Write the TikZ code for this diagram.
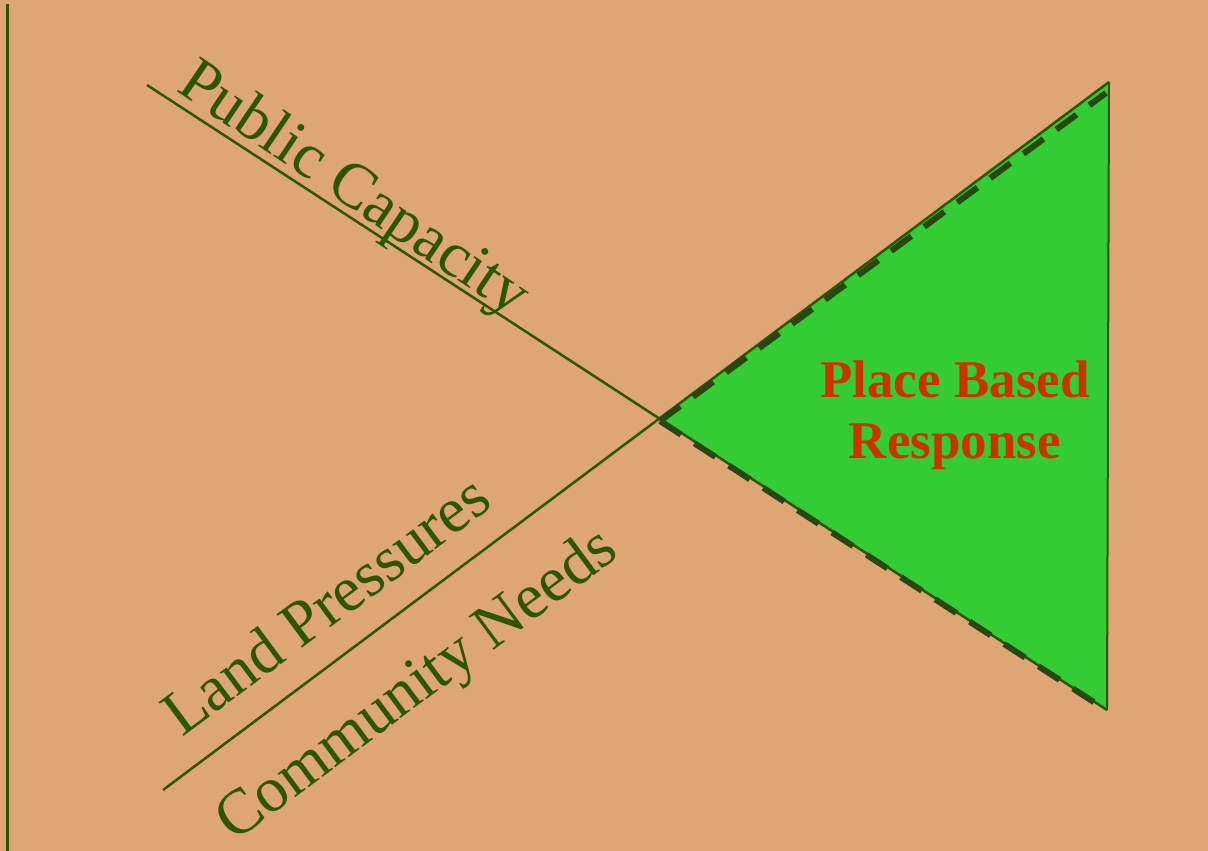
\documentclass[tikz,border=0pt]{standalone}
\usepackage{fontspec}
\setmainfont{Liberation Serif}
\definecolor{bg}{HTML}{DDA672}
\definecolor{trifill}{HTML}{33CC33}
\definecolor{dk}{HTML}{2B5500}
\definecolor{dashcol}{HTML}{274612}
\definecolor{rd}{HTML}{CC3300}
\begin{document}
\begin{tikzpicture}[x=1pt,y=-1pt,
  lbl/.style={text=dk, inner sep=0pt, anchor=base west, font=\fontsize{64}{70}\selectfont},
  red lbl/.style={text=rd, inner sep=0pt, anchor=base, font=\bfseries\fontsize{53}{61}\selectfont},
  crossline/.style={draw=dk, line width=2.5pt},
  tristroke/.style={draw=dk, line width=2pt, line join=miter},
  dashline/.style={draw=dashcol, line width=6pt, dash pattern=on 25pt off 16pt}]
\fill[bg] (0,0) rectangle (1208,851);
\useasboundingbox (0,0) rectangle (1208,851);
% coordinates
\coordinate (L1s) at (147,85);
\coordinate (L1e) at (1107,710);
\coordinate (L2s) at (163,790);
\coordinate (L2e) at (1109,82);
\coordinate (V) at (660,419);
\coordinate (DV) at (660,421);
\coordinate (DA) at (1106,93);
\coordinate (DB) at (1106,710);
\coordinate (VT) at (7,4);
\coordinate (VB) at (7,851);
% triangle
\fill[trifill] (V) -- (L2e) -- (L1e) -- cycle;
\draw[tristroke] (L2e) -- (L1e);
% crossing lines
\draw[crossline] (L1s) -- (L1e);
\draw[crossline] (L2s) -- (L2e);
% dashed edges
\draw[dashline] (DV) -- (DA);
\draw[dashline] (DV) -- (DB);
% left vertical rule
\draw[draw=dk, line width=3pt] (VT) -- (VB);
% labels
\node[lbl, rotate=-34] (pc) at (175,90) {Public Capacity};
\node[lbl, rotate=36.6] (lp) at (182,738) {Land Pressures};
\node[lbl, rotate=36.6] (cn) at (234,843) {Community Needs};
\node[red lbl] (pb1) at (955,397) {Place Based};
\node[red lbl] (pb2) at (955,458) {Response};
\end{tikzpicture}
\end{document}
